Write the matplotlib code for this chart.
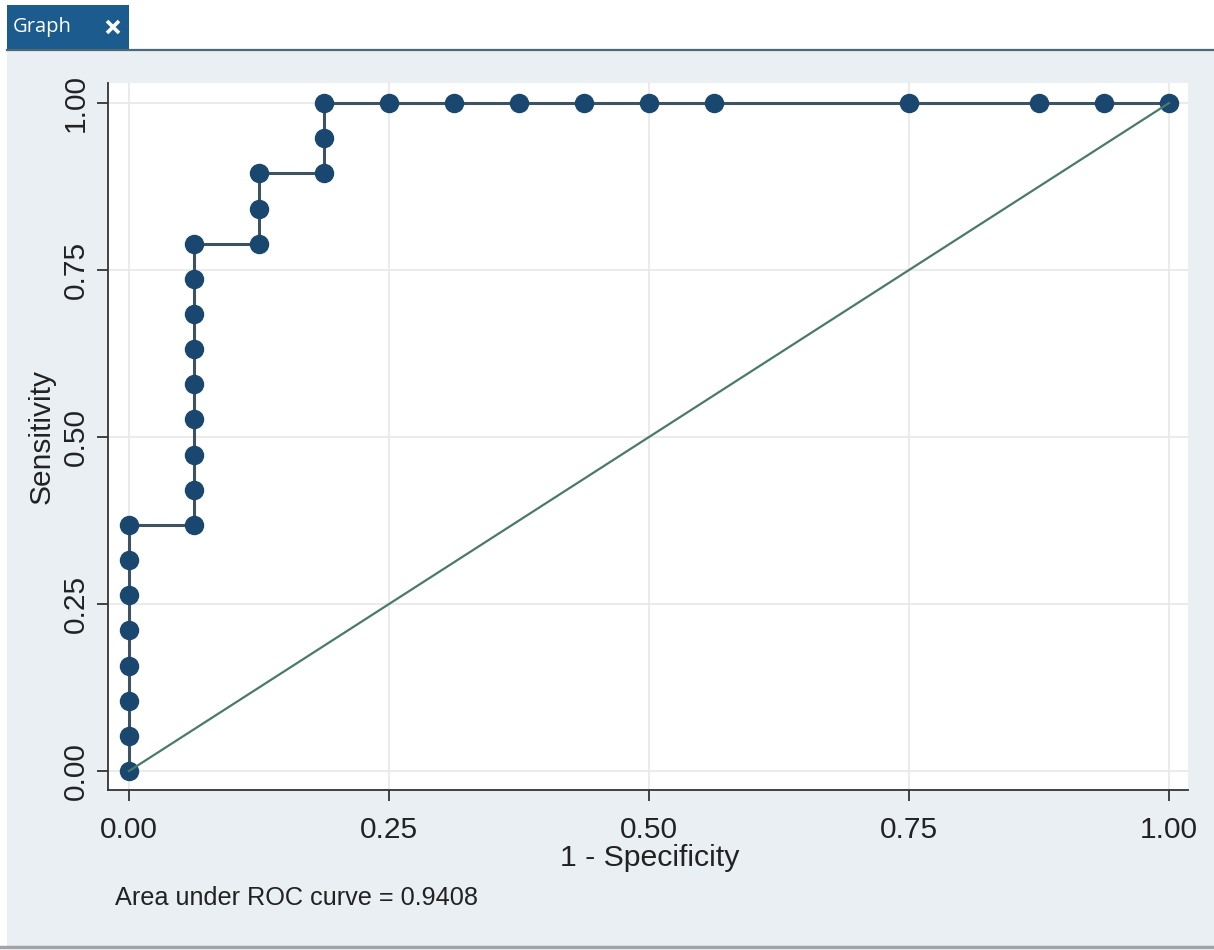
import numpy as np
import matplotlib.pyplot as plt
from matplotlib.patches import Rectangle
from matplotlib.lines import Line2D

# ROC points (1 - specificity, sensitivity)
fpr = [0.0, 0.0, 0.0, 0.0, 0.0, 0.0, 0.0, 0.0,
       0.0625, 0.0625, 0.0625, 0.0625, 0.0625, 0.0625, 0.0625, 0.0625, 0.0625,
       0.125, 0.125, 0.125,
       0.1875, 0.1875, 0.1875,
       0.25, 0.3125, 0.375, 0.4375, 0.5, 0.5625, 0.75, 0.875, 0.9375, 1.0]
sens = [0.0, 0.0526, 0.1053, 0.1579, 0.2105, 0.2632, 0.3158, 0.3684,
        0.3684, 0.4211, 0.4737, 0.5263, 0.5789, 0.6316, 0.6842, 0.7368, 0.7895,
        0.7895, 0.8421, 0.8947,
        0.8947, 0.9474, 1.0,
        1.0, 1.0, 1.0, 1.0, 1.0, 1.0, 1.0, 1.0, 1.0, 1.0]
ref_x = [0.0, 1.0]
ref_y = [0.0, 1.0]
ticks = [0.0, 0.25, 0.5, 0.75, 1.0]
tick_labels = ['0.00', '0.25', '0.50', '0.75', '1.00']
auc = 0.9408

plt.rcParams['font.family'] = ['Liberation Sans', 'DejaVu Sans']

W, H = 1214, 950
fig = plt.figure(figsize=(W / 100, H / 100), dpi=100)
fig.patch.set_facecolor('white')

def fx(px):
    return px / W

def fy(py):
    return 1 - py / H

# window chrome
fig.add_artist(Rectangle((fx(7), fy(946)), fx(1207), fy(51) - fy(946),
                         transform=fig.transFigure, facecolor='#e9eff2', edgecolor='none', zorder=0))
fig.add_artist(Rectangle((fx(7), fy(50)), fx(122), fy(5) - fy(50),
                         transform=fig.transFigure, facecolor='#1c5b8e', edgecolor='none', zorder=1))
fig.add_artist(Line2D([fx(7), fx(1214)], [fy(50), fy(50)], transform=fig.transFigure,
                      color='#4d6878', lw=1.6, zorder=2))
fig.add_artist(Line2D([fx(0), fx(1214)], [fy(947), fy(947)], transform=fig.transFigure,
                      color='#a0a4a8', lw=2.5, zorder=2))
fig.text(fx(13), fy(27), 'Graph', color='white', fontsize=14.5, family=['Open Sans', 'DejaVu Sans'],
         ha='left', va='center')
# close cross on the tab
for xs, ys in [([107, 119], [21, 33]), ([107, 119], [33, 21])]:
    fig.add_artist(Line2D([fx(v) for v in xs], [fy(v) for v in ys], transform=fig.transFigure,
                          color='white', lw=2.6, solid_capstyle='butt', zorder=3))

# plot region
ax = fig.add_axes([fx(108), fy(790), fx(1188) - fx(108), fy(83) - fy(790)])
ax.set_facecolor('white')
ax.set_xlim(-0.0202, 1.0183)
ax.set_ylim(-0.0284, 1.030)

ax.plot(fpr, sens, color='#3f5260', lw=2.2, marker='o', ms=13,
        markerfacecolor='#1a476f', markeredgecolor='#1a476f', zorder=3)
ax.plot(ref_x, ref_y, color='#4a7a6a', lw=1.6, zorder=4)

ax.set_xticks(ticks)
ax.set_xticklabels(tick_labels)
ax.set_yticks(ticks)
ax.set_yticklabels(tick_labels, rotation=90, va='center')
ax.grid(True, color='#e8e8e8', lw=1.2)
ax.set_axisbelow(True)

for s in ['top', 'right']:
    ax.spines[s].set_visible(False)
for s in ['left', 'bottom']:
    ax.spines[s].set_color('#333333')
    ax.spines[s].set_linewidth(1.3)
ax.tick_params(axis='both', length=8, width=1.3, color='#333333',
               labelsize=21.5, labelcolor='#222222')
ax.tick_params(axis='x', pad=10.5)
ax.tick_params(axis='y', pad=5)

fig.text(fx(650), fy(858), '1 - Specificity', fontsize=21.8, color='#222222', ha='center', va='center')
fig.text(fx(42), fy(437), 'Sensitivity', fontsize=21.5, color='#222222', ha='center', va='center',
         rotation=90)
fig.text(fx(115), fy(898), 'Area under ROC curve = %.4f' % auc, fontsize=18.2, color='#222222',
         ha='left', va='center')

fig.savefig('out.png', dpi=100)
